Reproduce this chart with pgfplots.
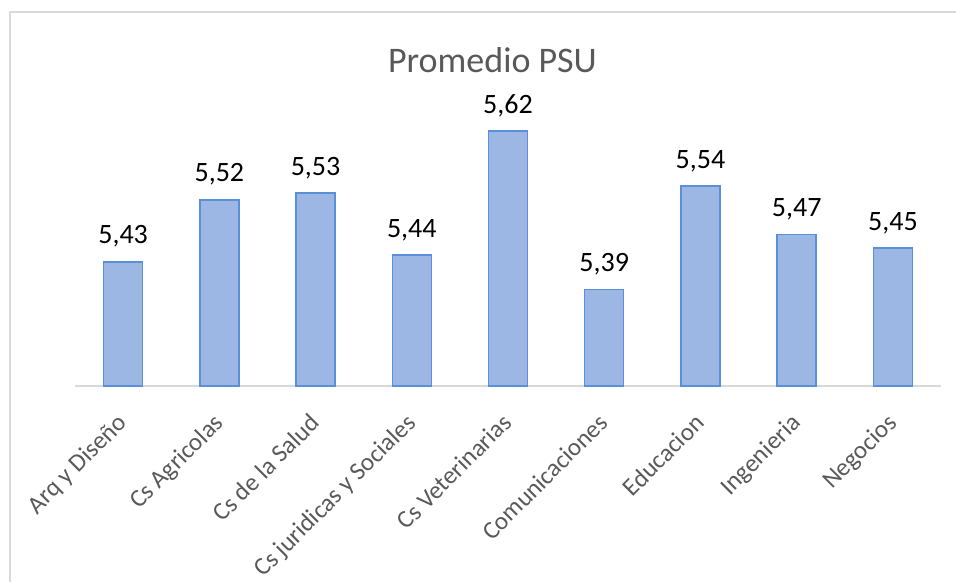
\documentclass[border=0pt]{standalone}
\usepackage{pgfplots}
\pgfplotsset{compat=1.18}
\usepackage{fontspec}
\setmainfont{Carlito}
\definecolor{barfill}{RGB}{157,183,228}
\definecolor{barline}{RGB}{91,143,218}
\definecolor{axgray}{RGB}{217,217,217}
\definecolor{txtgray}{RGB}{89,89,89}
\begin{document}
\begin{tikzpicture}[x=1pt,y=1pt]
\useasboundingbox (0,0) rectangle (956,582);
\draw[axgray, line width=1.5pt] (10,0) -- (10,570) -- (956,570);
\node[txtgray, font=\fontsize{36}{36}\selectfont] at (492.5,522) {Promedio PSU};
\begin{axis}[
  at={(75pt,196pt)}, anchor=south west,
  scale only axis, width=866pt, height=344.5pt,
  ymin=5.25, ymax=5.75, xmin=-0.5, xmax=8.5,
  axis x line*=bottom, axis y line=none,
  x axis line style={-, axgray, line width=1.5pt},
  xtick={0,...,8},
  xticklabels={Arq y Diseño, Cs Agricolas, Cs de la Salud, Cs juridicas y Sociales, Cs Veterinarias, Comunicaciones, Educacion, Ingenieria, Negocios},
  major tick length=0pt,
  xticklabel style={rotate=45, anchor=north east, text=txtgray, font=\fontsize{25}{25}\selectfont, inner sep=0pt, xshift=-23.4pt, yshift=-13.4pt},
  /pgf/number format/assume math mode=true,
  ybar, bar width=39pt,
  nodes near coords={\pgfmathprintnumber[use comma,fixed,fixed zerofill,precision=2]{\pgfplotspointmeta}},
  nodes near coords style={black, font=\fontsize{28}{28}\selectfont, anchor=base, inner sep=0pt, yshift=18pt},
  clip=false,
]
\addplot[fill=barfill, draw=barline, line width=1.5pt] coordinates {
(0,5.43) (1,5.52) (2,5.53) (3,5.44) (4,5.62) (5,5.39) (6,5.54) (7,5.47) (8,5.45)
};
\end{axis}
\end{tikzpicture}
\end{document}
